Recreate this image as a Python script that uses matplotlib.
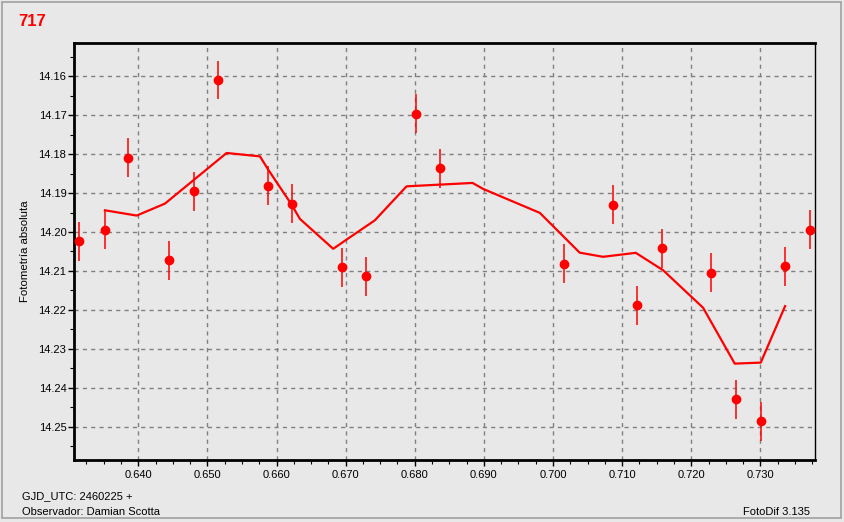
import matplotlib.pyplot as plt
from matplotlib.patches import Rectangle
from matplotlib.ticker import MultipleLocator

plt.rcParams['font.family'] = ['Liberation Sans', 'DejaVu Sans']

# observaciones (GJD - 2460225, magnitud, error)
jd = [0.63142, 0.63518, 0.63851, 0.64444, 0.64806, 0.65153, 0.65876,
      0.66223, 0.66946, 0.67293, 0.68016, 0.68363, 0.70156, 0.70865,
      0.71212, 0.71573, 0.72282, 0.72644, 0.73005, 0.73352, 0.73714]
mag = [14.2024, 14.1994, 14.1809, 14.2073, 14.1896, 14.1609, 14.1881,
       14.1927, 14.2091, 14.2114, 14.1697, 14.1837, 14.2081, 14.1930,
       14.2188, 14.2042, 14.2104, 14.2429, 14.2485, 14.2088, 14.1994]
err = [0.005, 0.005, 0.005, 0.005, 0.005, 0.0049, 0.005,
       0.005, 0.005, 0.005, 0.005, 0.005, 0.005, 0.005,
       0.005, 0.005, 0.005, 0.005, 0.005, 0.005, 0.005]

# curva suavizada
curve_x = [0.63518, 0.63977, 0.64386, 0.65278, 0.65760, 0.65880, 0.66218,
           0.66338, 0.66820, 0.67014, 0.67423, 0.67881, 0.68363, 0.68836,
           0.68989, 0.69809, 0.70386, 0.70724, 0.71197, 0.71592, 0.72171,
           0.72629, 0.73005, 0.73357]
curve_y = [14.19443, 14.19578, 14.19271, 14.17972, 14.18059, 14.18400, 14.19297,
           14.19663, 14.20431, 14.20193, 14.19699, 14.18828, 14.18784, 14.18741,
           14.18894, 14.19509, 14.20530, 14.20636, 14.20534, 14.20980, 14.21943,
           14.23377, 14.23351, 14.21902]

bg = '#e8e8e8'
fig = plt.figure(figsize=(8.44, 5.22), dpi=100, facecolor=bg)
ax = fig.add_axes([74 / 844, 1 - 460 / 522, (815 - 74) / 844, (460 - 43) / 522])
ax.set_facecolor(bg)

ax.plot(curve_x, curve_y, color='#ff0000', lw=1.6, zorder=3)
ax.errorbar(jd, mag, yerr=err, fmt='o', color='#ff0000', ms=6,
            elinewidth=1.1, capsize=0, zorder=4)

ax.set_xlim(0.6307, 0.7379)
ax.set_ylim(14.2585, 14.1515)
ax.xaxis.set_major_locator(MultipleLocator(0.01))
ax.xaxis.set_minor_locator(MultipleLocator(0.0025))
ax.yaxis.set_major_locator(MultipleLocator(0.01))
ax.yaxis.set_minor_locator(MultipleLocator(0.005))
ax.xaxis.set_major_formatter(plt.FuncFormatter(lambda v, p: f'{v:.3f}'))
ax.yaxis.set_major_formatter(plt.FuncFormatter(lambda v, p: f'{v:.2f}'))

ax.grid(which='major', color='#808080', linestyle=(0, (3, 3)), lw=1.0)
ax.tick_params(which='major', length=4, width=1, labelsize=8)
ax.tick_params(axis='y', which='major', pad=1.5)
ax.tick_params(axis='x', which='major', pad=3.5)
ax.tick_params(which='minor', length=3, width=0.8)

for side in ['left', 'bottom', 'top']:
    ax.spines[side].set_linewidth(2)
ax.spines['right'].set_linewidth(1)

ax.set_ylabel('Fotometría absoluta', fontsize=8.2, labelpad=6)

fig.text(18 / 844, 1 - 26 / 522, '717', color='#ff0000', fontsize=12,
         fontweight='bold')
fig.text(22 / 844, 1 - 499 / 522, 'GJD_UTC: 2460225 +', fontsize=8)
fig.text(22 / 844, 1 - 515 / 522, 'Observador: Damian Scotta', fontsize=8)
fig.text(810 / 844, 1 - 515 / 522, 'FotoDif 3.135', fontsize=8, ha='right')

fig.patches.append(Rectangle((2 / 844, 4 / 522), 839 / 844, 516 / 522,
                             transform=fig.transFigure, fill=False,
                             edgecolor='#a0a0a0', lw=1.2))

fig.savefig('out.png', dpi=100, facecolor=bg)
